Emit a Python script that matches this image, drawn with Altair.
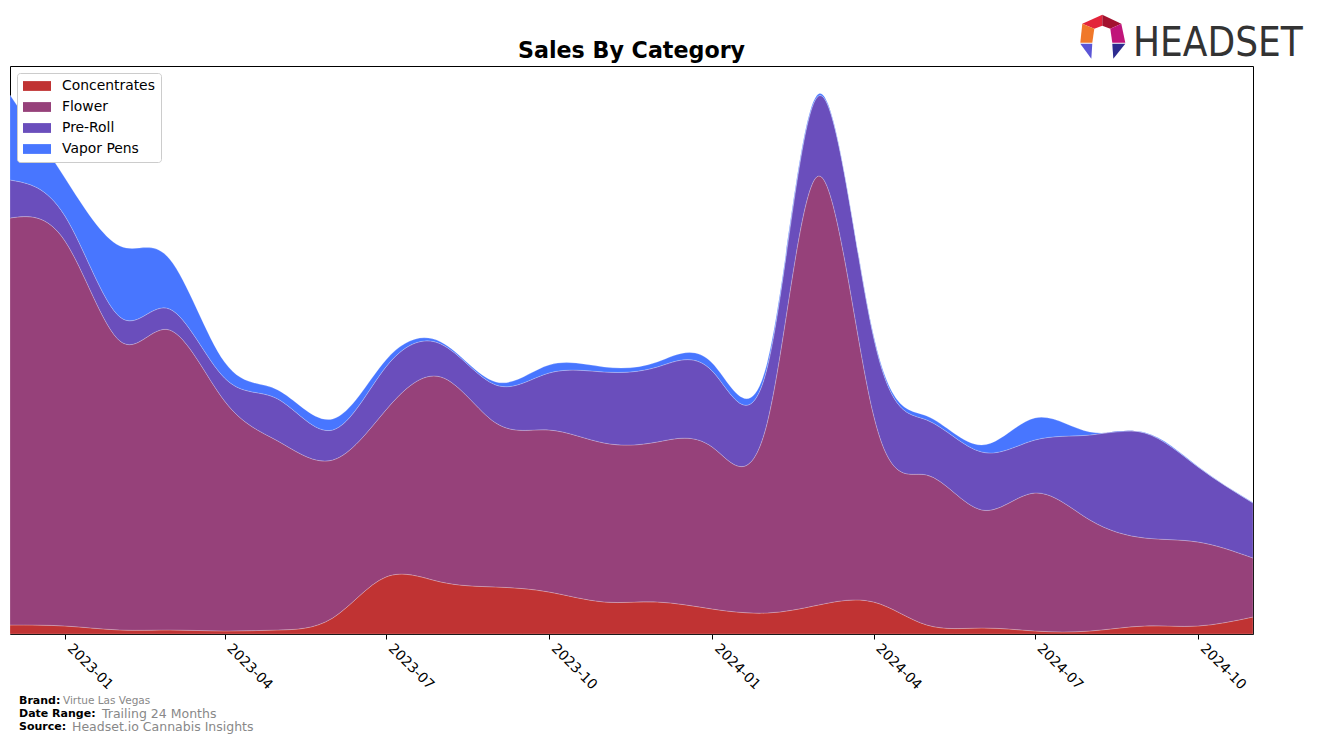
import altair as alt
import pandas as pd

# ---- data (arbitrary sales units) ----
months = [
    "2022-12-01", "2023-01-01", "2023-02-01", "2023-03-01", "2023-04-01", "2023-05-01",
    "2023-06-01", "2023-07-01", "2023-08-01", "2023-09-01", "2023-10-01", "2023-11-01",
    "2023-12-01", "2024-01-01", "2024-02-01", "2024-03-01", "2024-04-01", "2024-05-01",
    "2024-06-01", "2024-07-01", "2024-08-01", "2024-09-01", "2024-10-01", "2024-11-01",
]
concentrates = [9, 8, 4, 4, 3, 4, 16, 57, 52, 47, 42, 32, 32, 25, 21, 29, 32, 9, 6, 3, 3, 8, 8, 17]
flower = [407, 385, 289, 300, 230, 189, 158, 167, 205, 164, 162, 159, 160, 162, 190, 429, 187, 150, 118, 138, 111, 88, 84, 59]
pre_roll = [38, 25, 24, 21, 23, 42, 30, 43, 33, 38, 57, 71, 75, 76, 55, 80, 78, 55, 58, 53, 85, 105, 75, 55]
vapor_pens = [85, 38, 71, 50, 16, 9, 11, 7, 2, 3, 8, 5, 5, 8, 5, 2, 2, 4, 7, 22, 3, 0.5, 0.5, 0.5]

categories = ["Concentrates", "Flower", "Pre-Roll", "Vapor Pens"]
colors = ["#C03333", "#96417A", "#6A4EBC", "#4876FF"]
series = [concentrates, flower, pre_roll, vapor_pens]

rows = []
for k, (cat, vals) in enumerate(zip(categories, series)):
    for m, v in zip(months, vals):
        rows.append({"date": m, "category": cat, "value": v, "order": k})
df = pd.DataFrame(rows)

FONT = "DejaVu Sans"

x_enc = alt.X(
    "date:T",
    scale=alt.Scale(
        type="utc",
        domain=[alt.DateTime(year=2022, month=12, date=1, utc=True),
                alt.DateTime(year=2024, month=11, date=1, utc=True)],
        nice=False,
    ),
    axis=alt.Axis(
        title=None,
        values=[alt.DateTime(year=y, month=m, date=1, utc=True)
                for y, m in [(2023, 1), (2023, 4), (2023, 7), (2023, 10),
                             (2024, 1), (2024, 4), (2024, 7), (2024, 10)]],
        format="%Y-%m",
        labelAngle=45,
        labelAlign="left",
        labelBaseline="top",
        labelPadding=2,
        labelOffset=9,
        labelFont=FONT,
        labelFontSize=13.9,
        labelColor="black",
        tickSize=5,
        tickColor="black",
        tickWidth=1,
        domain=False,
        grid=False,
        labelOverlap=False,
    ),
)

area = alt.Chart(df).mark_area(
    interpolate="natural", opacity=1, stroke="white", strokeWidth=0.7, strokeOpacity=0.3
).encode(
    x=x_enc,
    y=alt.Y("value:Q", stack="zero", scale=alt.Scale(domain=[0, 568], nice=False), axis=None),
    color=alt.Color(
        "category:N",
        scale=alt.Scale(domain=categories, range=colors),
        legend=alt.Legend(
            title=None,
            orient="none",
            legendX=7,
            legendY=7,
            symbolType="M-2,-0.7H2V0.7H-2Z",
            symbolSize=196,
            symbolStrokeWidth=0,
            symbolOpacity=1,
            symbolOffset=7,
            labelFont=FONT,
            labelFontSize=13.9,
            labelColor="black",
            labelOffset=18,
            padding=6,
            rowPadding=7,
            strokeColor="#cccccc",
            fillColor="white",
            cornerRadius=3,
        ),
    ),
    order=alt.Order("order:Q", sort="ascending"),
)


def txt(text, x, y, size, weight="normal", color="black", align="left", baseline="middle", font=FONT):
    return alt.Chart(pd.DataFrame({"t": [text]})).mark_text(
        align=align, baseline=baseline, fontSize=size, fontWeight=weight, color=color, font=font
    ).encode(text="t:N", x=alt.value(x), y=alt.value(y))


title = txt("Sales By Category", 621.5, -8, 22.2, "bold", "black", "center", "alphabetic")

footer = [
    txt("Brand:", 9, 635, 11, "bold"),
    txt("Virtue Las Vegas", 53, 635, 10.5, color="#888888"),
    txt("Date Range:", 9, 648, 11, "bold"),
    txt("Trailing 24 Months", 92, 648, 12.5, color="#888888"),
    txt("Source:", 9, 661, 11, "bold"),
    txt("Headset.io Cannabis Insights", 62, 661, 12.5, color="#888888"),
]

logo_text = txt("HEADSET", 1123, -10, 40, "normal", "#333333", "left", "alphabetic",
                font="'DejaVu Sans Condensed', 'Roboto Condensed', Roboto, sans-serif")

icon_parts = [
    ("M-20,-13L0,-22L0,-11L-8,-8Z", "#E3243B"),
    ("M0,-22L19,-13L8,-8L0,-11Z", "#A3122F"),
    ("M-20,-13L-8,-8L-10,6L-22,6Z", "#F0782A"),
    ("M19,-13L23,6L10,6L8,-8Z", "#C0157A"),
    ("M-22,7L-10,7L-11,22Z", "#5B55D6"),
    ("M10,7L23,7L11,22Z", "#2D2B8F"),
]
icon = [
    alt.Chart(pd.DataFrame({"a": [0]})).mark_point(
        shape=p, filled=True, fill=c, opacity=1, strokeWidth=0, size=4
    ).encode(x=alt.value(1092.3), y=alt.value(-29.3))
    for p, c in icon_parts
]

chart = alt.layer(area, title, logo_text, *footer, *icon).properties(
    width=1243,
    height=568,
    autosize=alt.AutoSizeParams(type="none"),
    padding={"left": 10, "top": 66, "right": 64, "bottom": 110},
).configure(
    background="white",
    view=alt.ViewConfig(stroke="black", strokeWidth=1),
)

chart.save("out.html", embed_options={"renderer": "svg", "actions": False})
